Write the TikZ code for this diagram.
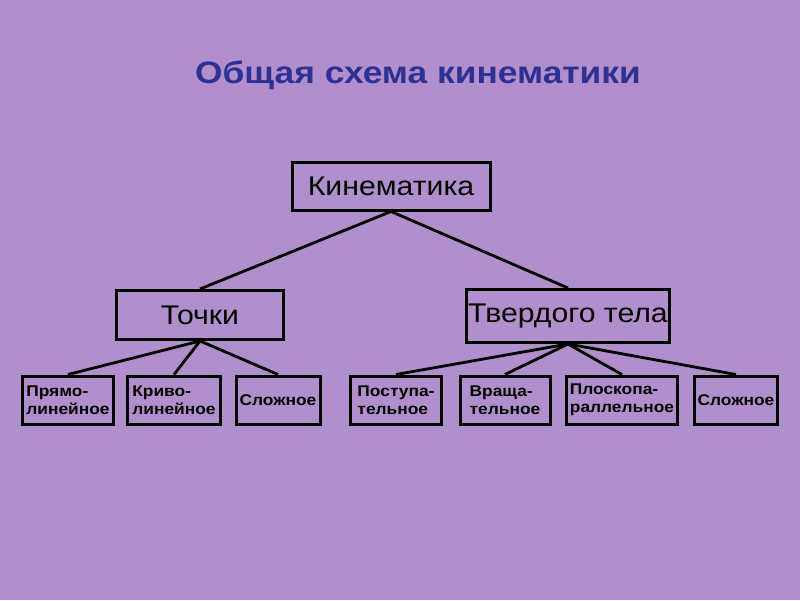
\documentclass[tikz,border=0pt]{standalone}
\usepackage{fontspec}
\setmainfont{Liberation Sans}
\newfontfamily\titlefont[FakeStretch=1.14]{Liberation Sans}
\newfontfamily\boxfont[FakeStretch=1.12]{Liberation Sans}
\usetikzlibrary{positioning}
\definecolor{Lilac}{HTML}{B18FCC}
\definecolor{TitleBlue}{HTML}{2E3192}
\begin{document}
\begin{tikzpicture}[x=1pt,y=-1pt]
\tikzset{kbox/.style={draw=black,line width=3pt,minimum height=48pt,inner sep=2pt,align=left,font=\boxfont\bfseries\fontsize{15.5}{18}\selectfont}, bigbox/.style={kbox,font=\boxfont\fontsize{27}{28}\selectfont}, link/.style={line width=2.8pt,black}}
\fill[Lilac] (0,0) rectangle (800,600);
\node[font=\titlefont\bfseries\fontsize{31}{34}\selectfont,text=TitleBlue] (title) at (418,75) {Общая схема кинематики};
\node[bigbox,minimum width=198pt] (kin) at (391,186) {Кинематика};
\node[bigbox,minimum width=167pt,minimum height=49pt] (pt) at (200,315) {Точки};
\node[bigbox,minimum width=201pt,minimum height=53pt] (body) at (568,316) {Твердого тела};
\node[kbox,minimum width=91pt] (p1) at (68,400) {Прямо-\\линейное};
\node[kbox,minimum width=93pt] (p2) at (174,400) {Криво-\\линейное};
\node[kbox,minimum width=84pt] (p3) at (278,400) {Сложное};
\node[kbox,minimum width=91pt] (b1) at (396,400) {Поступа-\\тельное};
\node[kbox,minimum width=90pt] (b2) at (505,400) {Враща-\\тельное};
\node[kbox,minimum width=111pt] (b3) at (622,400) {Плоскопа-\\раллельное};
\node[kbox,minimum width=83pt] (b4) at (736,400) {Сложное};
\draw[link] (kin.south) -- (pt.north);
\draw[link] (kin.south) -- (body.north);
\foreach \c in {p1,p2,p3} \draw[link] (pt.south) -- (\c.north);
\foreach \c in {b1,b2,b3,b4} \draw[link] (body.south) -- (\c.north);
\end{tikzpicture}
\end{document}
